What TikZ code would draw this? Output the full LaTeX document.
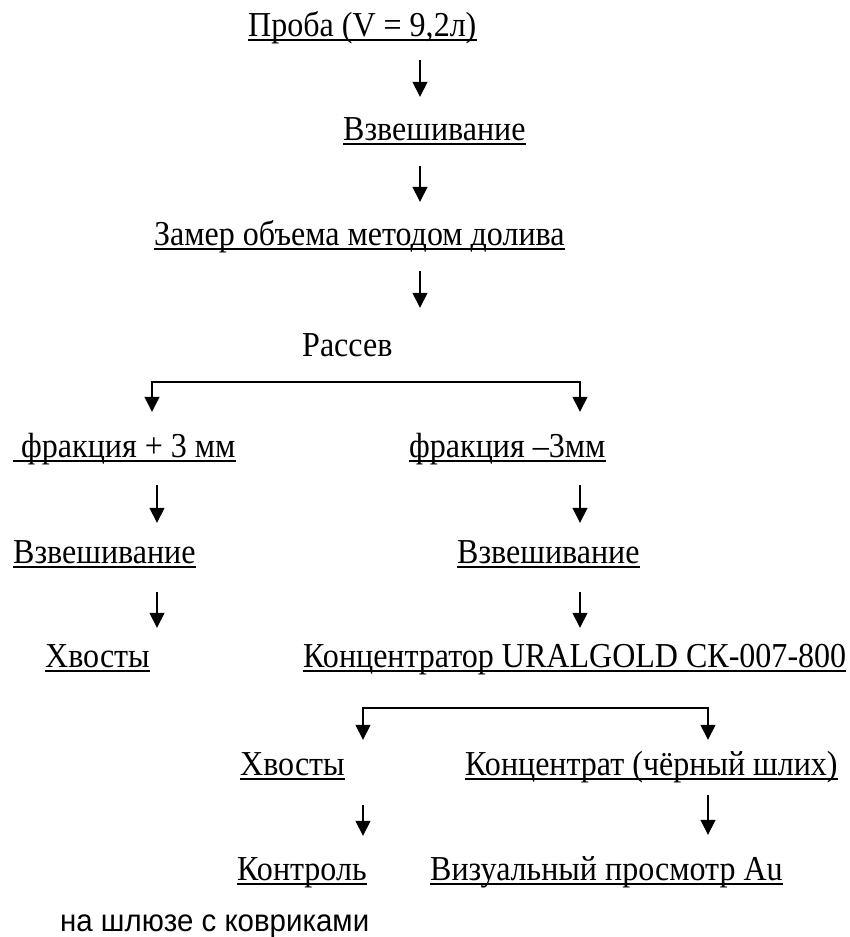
\documentclass[tikz,border=0pt]{standalone}
\usepackage{fontspec}
\setmainfont{Liberation Serif}[FakeStretch=0.915]
\newfontfamily\sansfam{Liberation Sans}[FakeStretch=0.95]
\usetikzlibrary{arrows.meta}
\tikzset{
    txt/.style={inner sep=0pt, anchor=base west, text height=23pt, text depth=7pt,
        font=\fontsize{35}{40}\selectfont},
    uline/.style={line width=2pt, -},
    ul/.style={txt, append after command={([yshift=-4pt]\tikzlastnode.base west)
        edge[uline] ([yshift=-4pt]\tikzlastnode.base east)}},
    flow/.style={line width=1.5pt, -{Triangle[length=15pt,width=15pt]},
        shorten <=19pt, shorten >=20pt},
    fork/.style={line width=1.5pt,
        {Triangle[length=15pt,width=15pt]}-{Triangle[length=15pt,width=15pt]}},
}

\begin{document}
\begin{tikzpicture}[x=1pt,y=-1pt]
    \useasboundingbox (0,0) rectangle (850,937);

    % columns of the arrows
    \coordinate (spine) at (420,0);
    \coordinate (forkL) at (152,0);
    \coordinate (colL) at (157,0);
    \coordinate (colR) at (580,0);
    \coordinate (colA) at (363,0);
    \coordinate (colB) at (708,0);

    \node[ul] (proba) at (248,36) {Проба (V = 9,2л)};
    \node[ul] (vzv) at (343,140) {Взвешивание};
    \node[ul] (zamer) at (154,245) {Замер объема методом долива};
    \node[txt] (rassev) at (302,356) {Рассев};

    \path[flow, shorten <=17pt] (proba.south -| spine) edge (vzv.north -| spine);
    \path[flow] (vzv.south -| spine) edge (zamer.north -| spine);
    \path[flow, shorten >=25pt] (zamer.south -| spine) edge (rassev.north -| spine);

    % first split
    \coordinate (split1) at (366,382);
    \node[ul] (fracP) at (13,457) {\ фракция + 3 мм};
    \node[ul] (fracM) at (409,457) {фракция –3мм};
    \draw[fork, shorten <=22pt, shorten >=22pt] (fracP.north -| forkL) |- (split1)
        -| (fracM.north -| colR);

    \node[ul] (vzvL) at (13,563) {Взвешивание};
    \node[ul] (vzvR) at (457,563) {Взвешивание};
    \path[flow, shorten <=21pt, shorten >=17pt] (fracP.south -| colL) edge (vzvL.north -| colL);
    \path[flow, shorten <=21pt, shorten >=17pt] (fracM.south -| colR) edge (vzvR.north -| colR);

    \node[ul] (hvL) at (45,667) {Хвосты};
    \node[ul] (konc) at (303,667) {Концентратор URALGOLD СК-007-800};
    \path[flow, shorten <=22pt, shorten >=16pt] (vzvL.south -| colL) edge (hvL.north -| colL);
    \path[flow, shorten <=22pt, shorten >=16pt] (vzvR.south -| colR) edge (konc.north -| colR);

    % second split
    \coordinate (split2) at (535,708);
    \node[ul] (hvA) at (240,775) {Хвосты};
    \node[ul] (koncB) at (465,775) {Концентрат (чёрный шлих)};
    \draw[fork, shorten <=12pt, shorten >=12pt] (hvA.north -| colA) |- (split2)
        -| (koncB.north -| colB);

    \node[ul] (kontrol) at (237,880) {Контроль};
    \node[ul] (vis) at (430,880) {Визуальный просмотр Au};
    \path[flow, shorten <=23pt, shorten >=21pt] (hvA.south -| colA) edge (kontrol.north -| colA);
    \path[flow, shorten <=13pt, shorten >=22pt] (koncB.south -| colB) edge (vis.north -| colB);

    \node[txt, font=\sansfam\fontsize{31}{36}\selectfont] (shluz) at (60,931) {на шлюзе с ковриками};
\end{tikzpicture}
\end{document}
